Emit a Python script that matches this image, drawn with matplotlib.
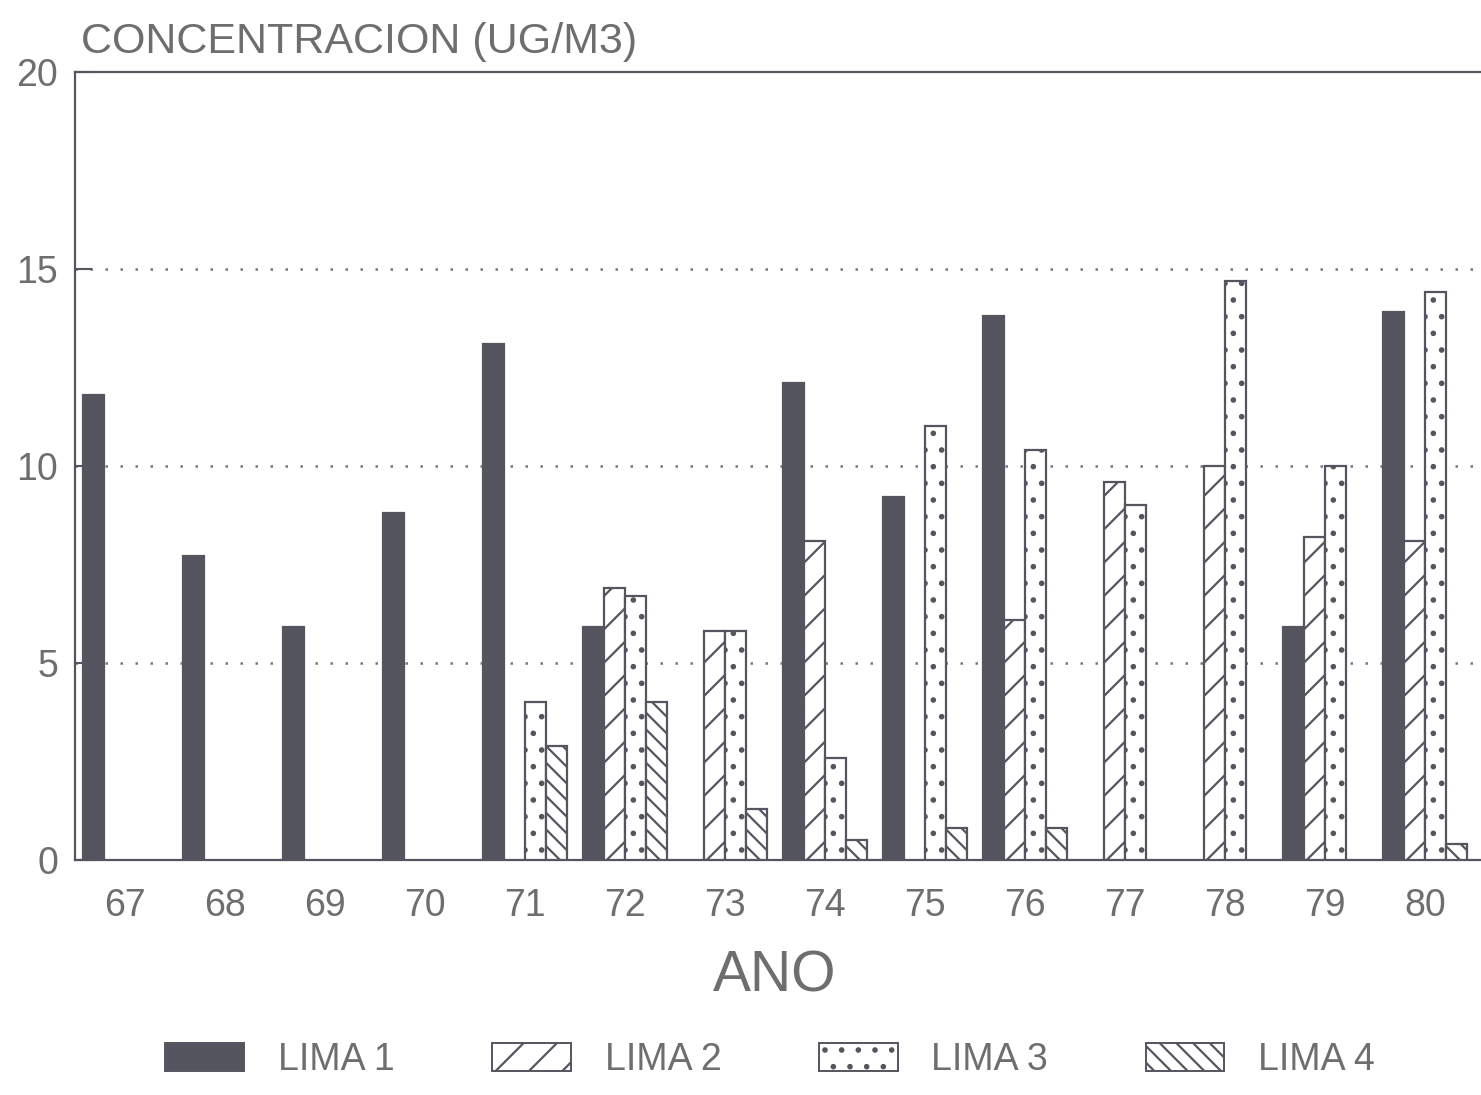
import numpy as np
import matplotlib
matplotlib.use("Agg")
import matplotlib.pyplot as plt
from matplotlib.patches import Patch

years = ["67", "68", "69", "70", "71", "72", "73", "74", "75", "76", "77", "78", "79", "80"]
lima1 = [11.8, 7.7, 5.9, 8.8, 13.1, 5.9, 0, 12.1, 9.2, 13.8, 0, 0, 5.9, 13.9]
lima2 = [0, 0, 0, 0, 0, 6.9, 5.8, 8.1, 0, 6.1, 9.6, 10.0, 8.2, 8.1]
lima3 = [0, 0, 0, 0, 4.0, 6.7, 5.8, 2.6, 11.0, 10.4, 9.0, 14.7, 10.0, 14.4]
lima4 = [0, 0, 0, 0, 2.9, 4.0, 1.3, 0.5, 0.8, 0.8, 0, 0, 0, 0.4]
names = ["LIMA 1", "LIMA 2", "LIMA 3", "LIMA 4"]

ink = "#55555f"
txt = "#6e6e6e"
plt.rcParams["font.family"] = ["Liberation Sans", "DejaVu Sans"]
plt.rcParams["hatch.linewidth"] = 1.6
plt.rcParams["hatch.color"] = ink

fig = plt.figure(figsize=(14.81, 10.95), dpi=100)
ax = fig.add_axes([0.0506, 0.2146, 0.9494, 0.72])

x = np.arange(67, 81)
w = 0.21
styles = [
    dict(facecolor=ink, hatch=None),
    dict(facecolor="white", hatch="/"),
    dict(facecolor="white", hatch="."),
    dict(facecolor="white", hatch="\\\\"),
]
series = [lima1, lima2, lima3, lima4]
for i, (vals, st) in enumerate(zip(series, styles)):
    vals = np.array(vals, dtype=float)
    m = vals > 0
    ax.bar(x[m] + (i - 1.5) * w, vals[m], width=w, edgecolor=ink,
           linewidth=1.6, zorder=3, **st)

ax.set_xlim(66.5, 80.56)
ax.set_ylim(0, 20)
ax.set_yticks([0, 5, 10, 15, 20])
ax.set_xticks(x)
ax.set_xticklabels(years)
ax.tick_params(axis="x", length=0, pad=20, labelsize=27, labelcolor=txt)
ax.tick_params(axis="y", direction="in", length=12, width=1.5, color=ink,
               pad=12, labelsize=27, labelcolor=txt)
for s in ["left", "bottom", "top"]:
    ax.spines[s].set_color(ink)
    ax.spines[s].set_linewidth(1.6)
ax.spines["right"].set_visible(False)

for yv in [5, 10, 15]:
    ax.axhline(yv, color="#77777f", linestyle=(0, (1, 5)), linewidth=1.8, zorder=1)

fig.text(0.055, 0.962, "CONCENTRACION (UG/M3)", fontsize=31, color=txt,
         ha="left", va="center")
fig.text(0.523, 0.108, "ANO", fontsize=41, color=txt, ha="center", va="center")

handles = [Patch(edgecolor=ink, linewidth=1.4, **st) for st in styles]
fig.legend(handles, names, loc="center", bbox_to_anchor=(0.52, 0.032), ncol=4,
           frameon=False, fontsize=27, labelcolor=txt, handlelength=2.1,
           handleheight=0.8, columnspacing=2.6, handletextpad=0.9)

fig.savefig("out.png", dpi=100, facecolor="white")
